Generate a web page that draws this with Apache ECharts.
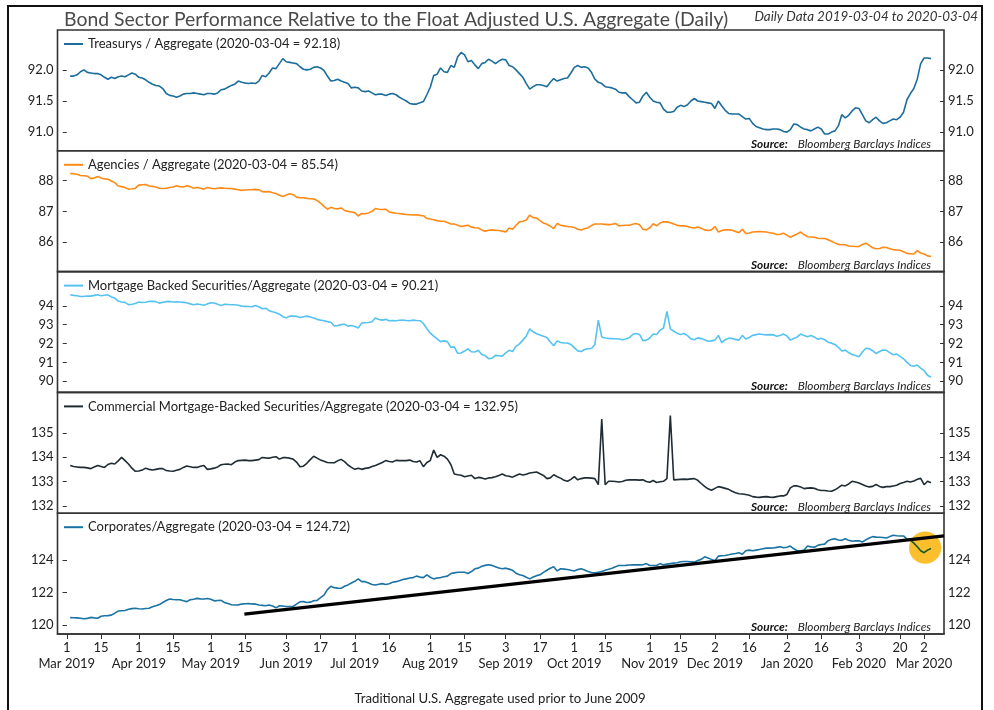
<!DOCTYPE html>
<html><head><meta charset="utf-8">
<script src="https://cdn.jsdelivr.net/npm/echarts@6/dist/echarts.min.js"></script>
<style>html,body{margin:0;padding:0;background:#fff}#c{width:994px;height:710px}</style>
</head><body><div id="c"></div><script>
// Trading calendar (bond market holidays excluded)
const calStart = '2019-03-01';
const calEnd = '2020-03-04';
const holidays = ['2019-04-19','2019-05-27','2019-07-04','2019-09-02','2019-10-14','2019-11-11','2019-11-28','2019-12-25','2020-01-01','2020-01-20','2020-02-17'];
const dataStartDate = '2019-03-04';
const tickDates = ['2019-03-01','2019-03-15','2019-04-01','2019-04-15','2019-05-01','2019-05-15','2019-06-03','2019-06-17','2019-07-01','2019-07-16','2019-08-01','2019-08-15','2019-09-03','2019-09-17','2019-10-01','2019-10-15','2019-11-01','2019-11-15','2019-12-02','2019-12-16','2020-01-02','2020-01-16','2020-02-03','2020-02-20','2020-03-02'];
const monthNames = ['Jan','Feb','Mar','Apr','May','Jun','Jul','Aug','Sep','Oct','Nov','Dec'];

const treasurys = [91.90,91.90,91.92,91.97,92.00,91.96,91.95,91.94,91.94,91.92,
91.88,91.85,91.88,91.86,91.89,91.90,91.89,91.92,91.95,91.93,
91.88,91.87,91.84,91.80,91.77,91.75,91.74,91.70,91.62,91.59,
91.58,91.56,91.58,91.61,91.62,91.62,91.63,91.62,91.61,91.60,
91.62,91.62,91.61,91.63,91.68,91.69,91.72,91.75,91.77,91.82,
91.80,91.79,91.78,91.79,91.78,91.82,91.91,91.89,91.95,92.03,
92.02,92.10,92.18,92.13,92.12,92.11,92.10,92.05,92.01,92.00,
92.01,92.04,92.05,92.03,91.99,91.90,91.82,91.83,91.85,91.82,
91.80,91.78,91.71,91.72,91.71,91.66,91.65,91.66,91.63,91.60,
91.61,91.61,91.59,91.61,91.62,91.60,91.56,91.53,91.50,91.46,
91.45,91.45,91.47,91.49,91.60,91.72,91.91,91.93,92.03,91.97,
91.96,92.07,92.04,92.21,92.28,92.24,92.13,92.15,92.08,92.02,
92.10,92.12,92.17,92.14,92.10,92.14,92.17,92.16,92.07,92.05,
92.00,91.94,91.88,91.78,91.69,91.73,91.76,91.76,91.75,91.73,
91.80,91.86,91.82,91.84,91.86,91.87,91.95,92.04,92.07,92.04,
92.05,92.03,91.96,91.85,91.80,91.78,91.73,91.72,91.71,91.69,
91.64,91.63,91.63,91.57,91.52,91.47,91.48,91.58,91.64,91.56,
91.50,91.48,91.47,91.37,91.32,91.32,91.33,91.40,91.43,91.41,
91.44,91.50,91.54,91.50,91.49,91.48,91.47,91.46,91.38,91.50,
91.42,91.35,91.30,91.29,91.29,91.29,91.25,91.21,91.22,91.14,
91.09,91.07,91.05,91.04,91.04,91.05,91.05,91.04,91.01,91.00,
91.04,91.13,91.12,91.08,91.05,91.04,91.02,91.05,91.08,91.05,
90.97,90.97,91.00,91.02,91.10,91.28,91.23,91.27,91.34,91.39,
91.38,91.28,91.18,91.15,91.20,91.24,91.18,91.14,91.15,91.18,
91.21,91.20,91.24,91.32,91.52,91.62,91.70,91.85,92.10,92.19,
92.19,92.18];

const agencies = [88.22,88.22,88.20,88.16,88.15,88.14,88.06,88.08,88.13,88.08,
88.05,88.04,87.98,87.93,87.82,87.80,87.77,87.72,87.73,87.75,
87.85,87.86,87.87,87.82,87.81,87.79,87.75,87.74,87.75,87.77,
87.79,87.83,87.80,87.79,87.83,87.80,87.75,87.77,87.75,87.72,
87.77,87.75,87.73,87.75,87.76,87.75,87.74,87.74,87.72,87.70,
87.68,87.69,87.70,87.70,87.71,87.70,87.64,87.63,87.64,87.60,
87.58,87.52,87.48,87.53,87.57,87.54,87.46,87.44,87.44,87.42,
87.41,87.40,87.35,87.27,87.16,87.07,87.13,87.09,87.08,87.11,
87.03,87.00,86.98,86.96,86.85,86.93,86.92,86.95,87.00,87.09,
87.07,87.06,87.07,86.98,86.96,86.94,86.93,86.91,86.90,86.89,
86.88,86.89,86.87,86.86,86.77,86.75,86.73,86.70,86.68,86.68,
86.64,86.59,86.59,86.55,86.51,86.53,86.55,86.49,86.47,86.46,
86.40,86.36,86.39,86.40,86.39,86.38,86.36,86.33,86.46,86.42,
86.55,86.66,86.68,86.72,86.88,86.80,86.78,86.70,86.62,86.58,
86.52,86.44,86.61,86.55,86.53,86.51,86.50,86.48,86.42,86.40,
86.44,86.47,86.54,86.59,86.59,86.59,86.58,86.57,86.58,86.61,
86.53,86.54,86.55,86.55,86.58,86.61,86.57,86.42,86.40,86.47,
86.60,86.53,86.62,86.66,86.66,86.63,86.59,86.55,86.53,86.53,
86.51,86.48,86.46,86.49,86.45,86.40,86.38,86.40,86.51,86.33,
86.38,86.40,86.40,86.39,86.35,86.31,86.42,86.28,86.30,86.33,
86.34,86.35,86.34,86.33,86.31,86.29,86.25,86.26,86.29,86.23,
86.16,86.22,86.27,86.33,86.25,86.18,86.17,86.16,86.13,86.12,
86.12,86.08,86.03,85.98,85.93,85.92,85.92,85.88,85.87,85.86,
85.86,85.93,85.97,85.90,85.82,85.79,85.80,85.84,85.83,85.79,
85.76,85.75,85.74,85.69,85.64,85.63,85.62,85.73,85.65,85.62,
85.56,85.54];

const mbs = [94.58,94.55,94.53,94.49,94.50,94.52,94.51,94.55,94.58,94.53,
94.56,94.58,94.47,94.41,94.25,94.20,94.18,94.06,94.08,94.12,
94.20,94.17,94.19,94.23,94.23,94.22,94.14,94.19,94.22,94.23,
94.20,94.21,94.20,94.18,94.16,94.10,94.05,94.09,94.07,94.03,
94.10,94.16,94.15,94.08,94.02,94.08,94.07,94.05,94.05,94.03,
93.98,93.97,93.96,93.95,94.02,93.95,93.84,93.87,93.74,93.68,
93.63,93.55,93.42,93.36,93.45,93.46,93.44,93.38,93.42,93.45,
93.40,93.35,93.28,93.24,93.21,93.16,93.13,92.93,92.95,93.00,
93.02,92.92,92.95,92.90,92.82,93.08,93.10,93.11,93.15,93.35,
93.27,93.24,93.28,93.21,93.22,93.21,93.23,93.24,93.22,93.21,
93.24,93.22,93.21,93.06,92.78,92.55,92.39,92.25,92.10,92.14,
92.10,91.80,91.82,91.48,91.50,91.60,91.72,91.56,91.55,91.64,
91.42,91.36,91.20,91.22,91.37,91.35,91.33,91.50,91.64,91.58,
91.85,91.98,92.18,92.40,92.78,92.62,92.52,92.45,92.38,92.32,
92.08,91.88,92.14,92.05,92.03,92.03,91.95,91.78,91.61,91.58,
91.68,91.72,91.74,91.95,93.24,92.35,92.29,92.27,92.26,92.25,
92.24,92.20,92.24,92.30,92.48,92.53,92.48,92.15,92.18,92.29,
92.50,92.48,92.70,92.82,93.70,92.78,92.65,92.55,92.48,92.53,
92.42,92.25,92.20,92.30,92.26,92.20,92.12,92.14,92.18,92.43,
92.05,92.20,92.28,92.27,92.22,92.18,92.43,92.24,92.32,92.43,
92.47,92.50,92.48,92.46,92.47,92.46,92.38,92.42,92.50,92.40,
92.18,92.27,92.35,92.50,92.42,92.36,92.42,92.35,92.22,92.28,
92.20,92.07,92.02,91.95,91.80,91.60,91.65,91.52,91.42,91.37,
91.30,91.55,91.75,91.72,91.62,91.47,91.58,91.65,91.64,91.52,
91.40,91.44,91.32,91.19,91.00,90.84,90.80,90.86,90.70,90.56,
90.32,90.21];

const cmbs = [133.66,133.62,133.60,133.58,133.58,133.56,133.53,133.60,133.66,133.62,
133.58,133.70,133.75,133.72,133.85,133.99,133.86,133.72,133.55,133.42,
133.43,133.47,133.55,133.50,133.47,133.50,133.53,133.53,133.45,133.43,
133.42,133.46,133.50,133.58,133.64,133.61,133.58,133.58,133.63,133.66,
133.50,133.52,133.55,133.60,133.69,133.71,133.72,133.69,133.80,133.86,
133.87,133.88,133.86,133.86,133.88,133.90,133.99,133.97,133.96,134.00,
134.02,133.92,133.98,133.98,133.96,133.92,133.80,133.61,133.63,133.75,
133.90,134.04,133.96,133.88,133.83,133.78,133.77,133.77,133.85,133.91,
133.82,133.68,133.58,133.50,133.55,133.50,133.54,133.56,133.62,133.66,
133.72,133.78,133.86,133.82,133.80,133.87,133.86,133.86,133.86,133.88,
133.82,133.80,133.85,133.61,133.78,133.86,134.29,133.99,134.10,134.04,
133.92,133.70,133.31,133.28,133.26,133.20,133.23,133.26,133.12,133.17,
133.15,133.10,133.15,133.16,133.20,133.25,133.31,133.24,133.22,133.18,
133.25,133.31,133.27,133.30,133.35,133.37,133.39,133.32,133.25,133.12,
133.15,133.28,133.20,133.14,133.05,133.01,133.09,133.20,133.07,133.12,
133.15,133.15,133.14,133.12,132.87,135.57,132.87,133.01,133.01,133.00,
132.98,133.00,133.05,133.07,133.07,133.07,133.06,133.07,133.00,132.97,
133.04,132.96,132.99,133.01,133.12,135.71,133.07,133.08,133.09,133.10,
133.09,133.11,133.12,133.05,132.92,132.80,132.70,132.64,132.72,132.79,
132.76,132.72,132.68,132.60,132.54,132.50,132.49,132.47,132.44,132.38,
132.36,132.35,132.37,132.38,132.36,132.35,132.38,132.41,132.41,132.47,
132.74,132.82,132.82,132.78,132.71,132.73,132.74,132.72,132.66,132.63,
132.63,132.61,132.60,132.66,132.75,132.85,132.82,132.90,133.01,132.98,
132.94,132.88,132.82,132.78,132.80,132.88,132.80,132.76,132.79,132.79,
132.82,132.85,132.92,132.96,133.01,132.98,133.02,133.09,133.13,132.87,
133.01,132.95];

const corporates = [120.47,120.46,120.45,120.43,120.40,120.42,120.48,120.45,120.43,120.55,
120.58,120.59,120.62,120.74,120.87,120.89,120.91,120.98,121.02,121.04,
121.01,121.00,121.03,121.04,121.13,121.20,121.27,121.40,121.52,121.61,
121.58,121.57,121.57,121.50,121.45,121.57,121.60,121.65,121.62,121.61,
121.64,121.60,121.50,121.52,121.53,121.40,121.33,121.26,121.24,121.25,
121.30,121.32,121.33,121.31,121.30,121.24,121.22,121.20,121.24,121.18,
121.07,121.20,121.18,121.15,121.15,121.15,121.30,121.44,121.45,121.40,
121.42,121.50,121.53,121.70,121.85,122.19,122.39,122.31,122.28,122.27,
122.40,122.48,122.60,122.70,122.85,122.68,122.68,122.60,122.51,122.47,
122.52,122.56,122.51,122.55,122.64,122.68,122.74,122.81,122.85,122.90,
122.93,123.02,122.96,122.93,123.10,122.95,122.85,122.90,122.93,122.98,
123.02,123.18,123.22,123.26,123.26,123.26,123.18,123.30,123.47,123.51,
123.63,123.68,123.72,123.68,123.60,123.52,123.47,123.51,123.45,123.38,
123.20,123.10,123.06,122.95,122.85,122.97,123.05,123.10,123.25,123.38,
123.50,123.59,123.34,123.47,123.45,123.43,123.38,123.34,123.42,123.47,
123.40,123.30,123.24,123.22,123.26,123.30,123.38,123.44,123.51,123.60,
123.67,123.67,123.68,123.70,123.71,123.71,123.71,123.72,123.79,123.67,
123.67,123.67,123.79,123.71,123.76,123.79,123.82,123.84,123.90,123.92,
123.92,123.90,123.88,123.98,124.05,124.21,124.13,124.05,123.96,124.25,
124.27,124.29,124.33,124.38,124.41,124.46,124.37,124.58,124.62,124.58,
124.62,124.66,124.70,124.74,124.74,124.75,124.79,124.83,124.76,124.80,
124.87,124.70,124.58,124.58,124.62,124.87,124.82,124.80,124.91,124.96,
124.99,125.20,125.28,125.32,125.24,125.22,125.32,125.22,125.16,125.20,
125.19,125.12,125.25,125.36,125.45,125.42,125.41,125.40,125.36,125.45,
125.53,125.50,125.49,125.49,125.30,125.24,125.05,124.83,124.58,124.46,
124.62,124.72];

// Trend line (x in trading-day index, value) and highlighted point
const trendLine = [[51.8, 120.68], [255.8, 125.49]];
const highlight = [250.3, 124.77];

// y ranges and tick values
const yRanges = [[90.70, 92.64], [85.05, 88.96], [89.41, 95.81], [131.70, 136.66], [119.46, 126.89]];
const yTicks = [[91.0, 91.5, 92.0], [86, 87, 88], [90, 91, 92, 93, 94], [132, 133, 134, 135], [120, 122, 124]];
const xRange = [-2.7, 255.8];

function fmtDate(t) { const d = new Date(t); return d.getUTCFullYear() + '-' + String(d.getUTCMonth() + 1).padStart(2, '0') + '-' + String(d.getUTCDate()).padStart(2, '0'); }
function buildTradeDates(s, e, hol) {
  const out = []; let t = Date.parse(s + 'T00:00:00Z'); const end = Date.parse(e + 'T00:00:00Z');
  while (t <= end) { const wd = new Date(t).getUTCDay(); const ds = fmtDate(t); if (wd !== 0 && wd !== 6 && hol.indexOf(ds) < 0) out.push(ds); t += 86400000; }
  return out;
}
const tradeDates = buildTradeDates(calStart, calEnd, holidays);
const dataStart = tradeDates.indexOf(dataStartDate);
const lastDate = tradeDates[tradeDates.length - 1];
const tickIdx = tickDates.map(d => tradeDates.indexOf(d));
const monthIdx = tickIdx.filter((v, k) => k % 2 === 0);
const pairs = arr => arr.map((v, k) => [dataStart + k, v]);

const panels = [
  { label: 'Treasurys / Aggregate', data: treasurys, color: '#1c6d9c', dec: 1 },
  { label: 'Agencies / Aggregate', data: agencies, color: '#ff8a16', dec: 0 },
  { label: 'Mortgage Backed Securities/Aggregate', data: mbs, color: '#55c3f2', dec: 0 },
  { label: 'Commercial Mortgage-Backed Securities/Aggregate', data: cmbs, color: '#1f2c33', dec: 0 },
  { label: 'Corporates/Aggregate', data: corporates, color: '#1a73a3', dec: 0 }
];
panels.forEach(p => { p.name = p.label + ' (' + lastDate + ' = ' + p.data[p.data.length - 1].toFixed(2) + ')'; });

const FONT = 'Lato';
const gridTop0 = 30, gridH = 120.8, gridLeft = 57.5, gridRight = 50;
const grids = [], xAxes = [], yAxes = [], series = [], legends = [], graphics = [];
panels.forEach((p, i) => {
  const top = gridTop0 + gridH * i;
  grids.push({ left: gridLeft, right: gridRight, top: top, height: gridH, show: true, borderColor: '#333', borderWidth: 1.6, backgroundColor: 'transparent' });
  const isLast = i === panels.length - 1;
  xAxes.push({
    gridIndex: i, type: 'value', position: 'bottom', min: xRange[0], max: xRange[1], show: isLast,
    axisLine: { show: isLast, lineStyle: { color: '#333', width: 1.6 } },
    axisTick: { show: isLast, customValues: tickIdx, length: 5, lineStyle: { color: '#333', width: 1 } },
    axisLabel: {
      show: isLast, customValues: tickIdx, margin: 6, fontSize: 13, lineHeight: 16, color: '#222', fontFamily: FONT,
      showMinLabel: true, showMaxLabel: true, hideOverlap: false,
      formatter: function (val) {
        const k = tickIdx.indexOf(Math.round(val)); if (k < 0) return '';
        return String(+tickDates[k].slice(8, 10));
      }
    },
    splitLine: { show: false }
  });
  ['left', 'right'].forEach(pos => {
    yAxes.push({
      gridIndex: i, type: 'value', position: pos, min: yRanges[i][0], max: yRanges[i][1],
      axisLine: { show: false },
      axisTick: { show: true, inside: pos === 'right', customValues: yTicks[i], length: 4, lineStyle: { color: '#333' } },
      axisLabel: { customValues: yTicks[i], margin: 4, fontSize: 13, color: '#222', fontFamily: FONT, formatter: v => v.toFixed(p.dec) },
      splitLine: { show: false }
    });
  });
  const s = {
    type: 'line', name: p.name, xAxisIndex: i, yAxisIndex: 2 * i, data: pairs(p.data),
    showSymbol: false, symbol: 'none', lineStyle: { color: p.color, width: 1.6 }, itemStyle: { color: p.color }, z: 3, silent: true
  };
  if (isLast) {
    s.markLine = { silent: true, symbol: 'none', label: { show: false }, lineStyle: { color: '#000', width: 3.2, type: 'solid' },
      data: [[{ coord: trendLine[0] }, { coord: trendLine[1] }]] };
  }
  series.push(s);
  legends.push({
    data: [{ name: p.name, itemStyle: { color: p.color } }], left: 59, top: top + 2.5, icon: 'rect', itemWidth: 19, itemHeight: 2,
    textStyle: { fontSize: 13, color: '#222', fontFamily: FONT }, selectedMode: false
  });
  graphics.push({
    type: 'text', x: 931, y: top + gridH - 6.5, silent: true,
    style: {
      text: '{b|Source:}Bloomberg Barclays Indices', align: 'right', verticalAlign: 'middle',
      fontSize: 11.8, fontStyle: 'italic', fontFamily: FONT, fill: '#222',
      rich: { b: { fontWeight: 'bold', fontStyle: 'italic', fontSize: 11.8, fontFamily: FONT, fill: '#111', padding: [0, 10, 0, 0] } }
    }
  });
});
// month / year line of the bottom axis
xAxes.push({
  gridIndex: 4, type: 'value', position: 'bottom', offset: 0, min: xRange[0], max: xRange[1],
  axisLine: { show: false }, axisTick: { show: false }, splitLine: { show: false },
  axisLabel: {
    customValues: monthIdx, margin: 22, fontSize: 13, lineHeight: 16, color: '#222', fontFamily: FONT,
    showMinLabel: true, showMaxLabel: true, hideOverlap: false,
    formatter: function (val) {
      const k = tickIdx.indexOf(Math.round(val)); if (k < 0) return '';
      const d = tickDates[k];
      return monthNames[+d.slice(5, 7) - 1] + ' ' + d.slice(0, 4);
    }
  }
});

graphics.push({ type: 'rect', silent: true, shape: { x: 8, y: 6, width: 974, height: 710 }, style: { fill: 'none', stroke: '#111', lineWidth: 2 } });
graphics.push({ type: 'text', x: 64, y: 20, silent: true, style: { text: 'Bond Sector Performance Relative to the Float Adjusted U.S. Aggregate (Daily)', fontSize: 19.4, fontFamily: FONT, fill: '#4a4a4a', verticalAlign: 'middle' } });
graphics.push({ type: 'text', x: 978, y: 17, silent: true, style: { text: 'Daily Data ' + dataStartDate + ' to ' + lastDate, fontSize: 13.4, fontStyle: 'italic', fontFamily: FONT, fill: '#333', align: 'right', verticalAlign: 'middle' } });
graphics.push({ type: 'text', x: 500, y: 699, silent: true, style: { text: 'Traditional U.S. Aggregate used prior to June 2009', fontSize: 13.2, fontFamily: FONT, fill: '#222', align: 'center', verticalAlign: 'middle' } });

const chart = echarts.init(document.getElementById('c'), null, { renderer: 'canvas' });
chart.setOption({
  animation: false, backgroundColor: '#fff',
  textStyle: { fontFamily: FONT },
  grid: grids, xAxis: xAxes, yAxis: yAxes, series: series, legend: legends, graphic: graphics
});
// highlight circle placed through the bottom panel's scales, multiplied over the line
const hp = chart.convertToPixel({ xAxisIndex: 4, yAxisIndex: 8 }, highlight);
const pr = chart.convertToPixel({ xAxisIndex: 4, yAxisIndex: 8 }, [highlight[0] + 4.7, highlight[1]]);
graphics.push({ type: 'circle', silent: true, z: 100, shape: { cx: hp[0], cy: hp[1], r: pr[0] - hp[0] }, style: { fill: '#fbbf2e', blend: 'multiply' } });
chart.setOption({ graphic: graphics });
</script></body></html>
